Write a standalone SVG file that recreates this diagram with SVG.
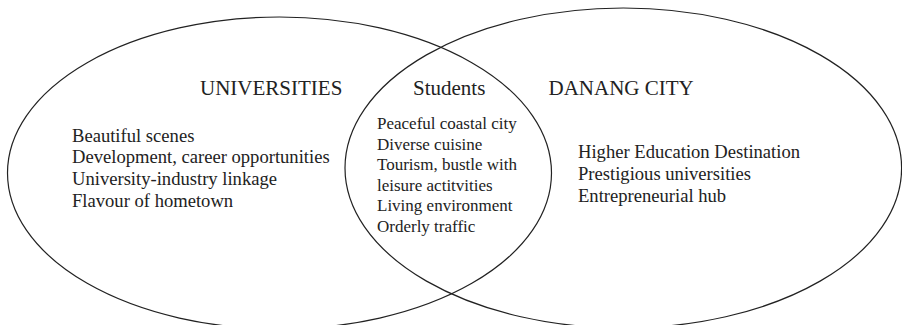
<svg xmlns="http://www.w3.org/2000/svg" width="902" height="325" viewBox="0 0 902 325">
  <style>
    .set { fill: none; stroke: #222; stroke-width: 1.2; }
    .head { font-family: "Liberation Serif", "Times New Roman", serif; font-size: 21px; fill: #222; }
    .body { font-family: "Liberation Serif", "Times New Roman", serif; font-size: 17px; fill: #222; }
    .side { font-family: "Liberation Serif", "Times New Roman", serif; font-size: 18.6px; fill: #222; }
  </style>
  <rect width="902" height="325" fill="#fff"/>
  <g id="universities">
    <ellipse class="set" cx="279.5" cy="173" rx="272" ry="156"/>
    <text class="head" x="200" y="95">UNIVERSITIES</text>
    <text class="side" x="72" y="141.7">Beautiful scenes</text>
    <text class="side" x="72" y="163.4">Development, career opportunities</text>
    <text class="side" x="72" y="185.1">University-industry linkage</text>
    <text class="side" x="72" y="206.8">Flavour of hometown</text>
  </g>
  <g id="danang-city">
    <ellipse class="set" cx="623.3" cy="168" rx="278.3" ry="160"/>
    <text class="head" x="548.5" y="95">DANANG CITY</text>
    <text class="side" x="578" y="158.3">Higher Education Destination</text>
    <text class="side" x="578" y="180">Prestigious universities</text>
    <text class="side" x="578" y="201.7">Entrepreneurial hub</text>
  </g>
  <g id="students">
    <text class="head" x="413" y="95">Students</text>
    <text class="body" x="377" y="129">Peaceful coastal city</text>
    <text class="body" x="377" y="149.5">Diverse cuisine</text>
    <text class="body" x="377" y="170">Tourism, bustle with</text>
    <text class="body" x="377" y="190.5">leisure actitvities</text>
    <text class="body" x="377" y="211">Living environment</text>
    <text class="body" x="377" y="231.5">Orderly traffic</text>
  </g>
  <g id="connectors"/>
</svg>
